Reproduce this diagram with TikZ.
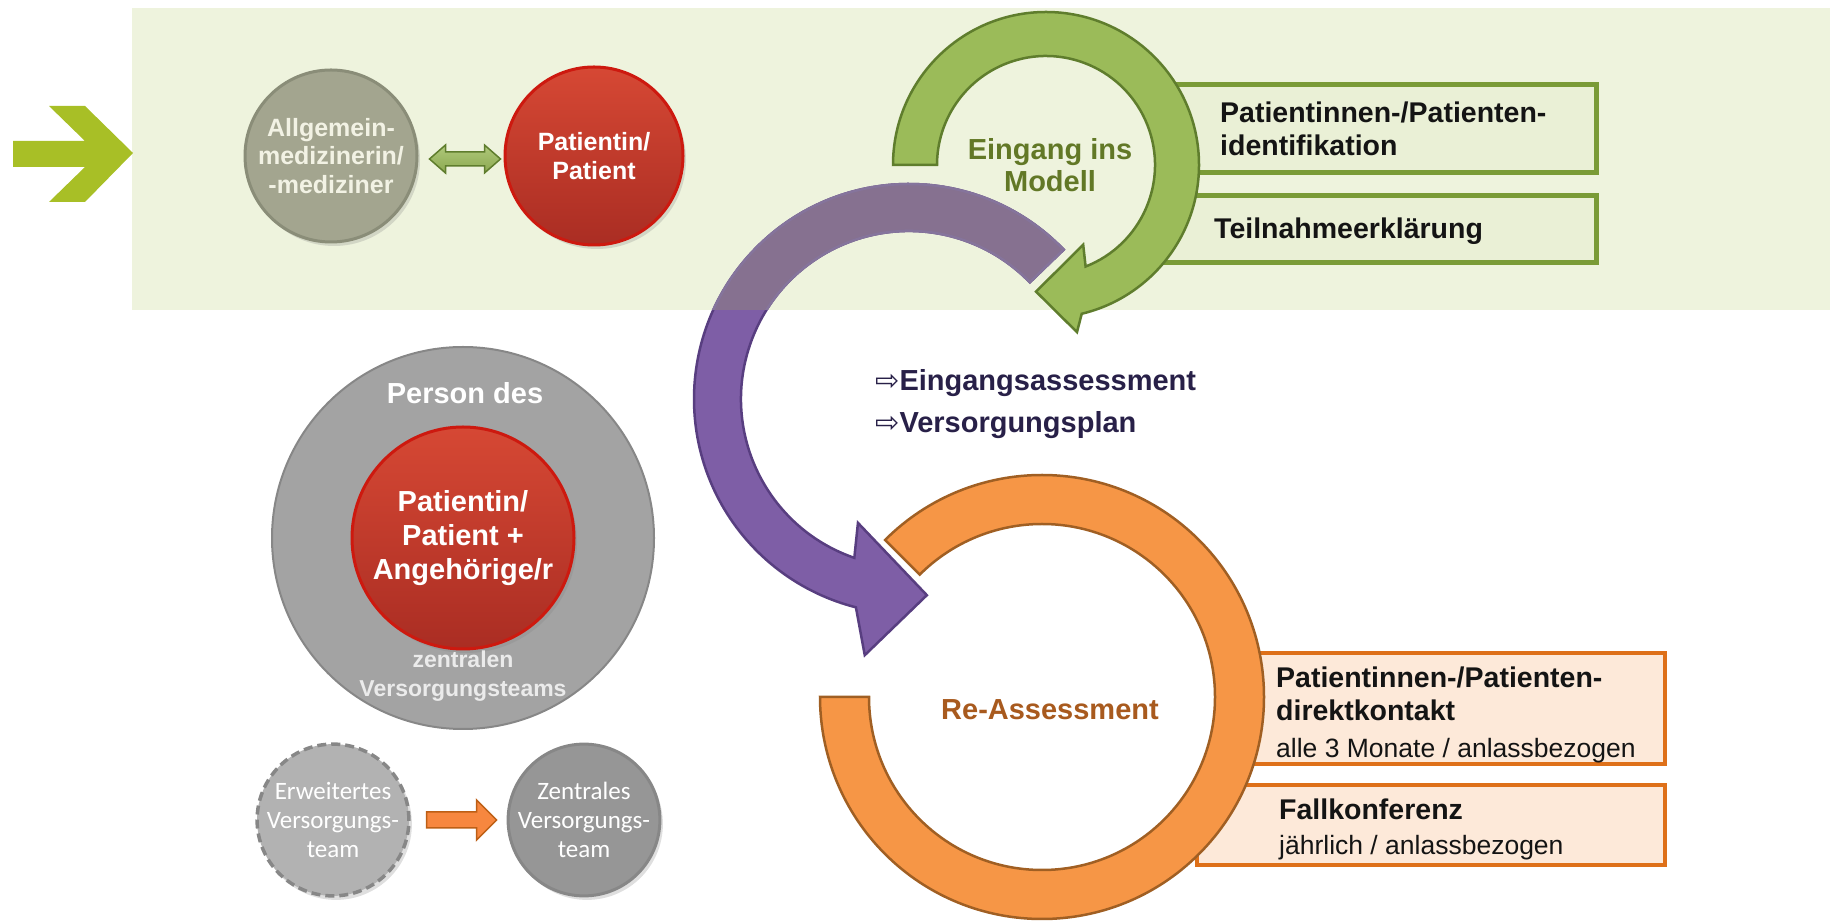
\documentclass[tikz,border=0pt]{standalone}
\usepackage{fontspec}
\setmainfont{Liberation Sans}
\newfontfamily\pfeilfont{DejaVu Sans}
\newfontfamily\calfont{Carlito}
\usepackage{tikz}
\usetikzlibrary{calc,shadows}

\definecolor{bandgruen}{RGB}{238,243,221}
\definecolor{pfeilgruen}{RGB}{168,191,38}
\definecolor{ringgruen}{RGB}{155,187,89}
\definecolor{randgruen}{RGB}{95,125,45}
\definecolor{boxgruen}{RGB}{234,240,214}
\definecolor{boxrandgruen}{RGB}{122,155,55}
\definecolor{textgruen}{RGB}{98,120,38}
\definecolor{lila}{RGB}{126,94,166}
\definecolor{lilarand}{RGB}{88,62,128}
\definecolor{lilamatt}{RGB}{134,113,144}
\definecolor{ringorange}{RGB}{246,150,70}
\definecolor{orangerand}{RGB}{160,95,35}
\definecolor{boxorange}{RGB}{253,233,217}
\definecolor{boxrandorange}{RGB}{222,112,25}
\definecolor{textbraun}{RGB}{168,90,30}
\definecolor{graugruen}{RGB}{163,165,143}
\definecolor{graugruenrand}{RGB}{138,141,120}
\definecolor{rotoben}{RGB}{214,72,52}
\definecolor{rotunten}{RGB}{170,45,35}
\definecolor{rotrand}{RGB}{205,25,15}
\definecolor{teamgrau}{RGB}{163,163,163}
\definecolor{teamrand}{RGB}{135,135,135}
\definecolor{hellgrau}{RGB}{178,178,178}
\definecolor{mittelgrau}{RGB}{150,150,150}
\definecolor{dunkeltext}{RGB}{40,32,72}
\definecolor{creme}{RGB}{242,242,228}

\tikzset{
	schatten/.style={drop shadow={opacity=0.25, shadow xshift=3pt, shadow yshift=-4pt}},
	kreis/.style={circle, align=center, inner sep=0pt, line width=3pt},
	arztkreis/.style={kreis, schatten, minimum size=172pt, fill=graugruen, draw=graugruenrand, text=creme, font=\fontsize{25}{28.5}\selectfont\bfseries},
	patkreis/.style={kreis, schatten, top color=rotoben, bottom color=rotunten, draw=rotrand, text=white, font=\fontsize{25}{29}\selectfont\bfseries},
	teamkreis/.style={kreis, minimum size=382pt, fill=teamgrau, draw=teamrand, line width=2pt},
	kleinkreis/.style={kreis, schatten, minimum size=144pt, text=white, font=\fontsize{25}{29}\selectfont\calfont},
	gbox/.style={draw=boxrandgruen, fill=boxgruen, line width=5pt},
	obox/.style={draw=boxrandorange, fill=boxorange, line width=4pt},
	boxtext/.style={align=left, inner sep=0pt, text=black!92, font=\fontsize{28.5}{33}\selectfont\bfseries},
	dblpfeil/.style={draw=randgruen, line width=1.5pt, top color=ringgruen!80!white, bottom color=ringgruen!90!black},
	orpfeil/.style={draw=boxrandorange!85!black, line width=1.5pt, fill=ringorange!90!red},
	gruenring/.style={fill=ringgruen, draw=randgruen, line width=2.5pt},
	orangering/.style={fill=ringorange, draw=orangerand, line width=2.5pt}
}

\newcommand{\lilapfeil}[1] % {Stil}
{
	\draw [#1] ($(P)+(44:215)$) arc [start angle=44, end angle=255.7, radius=215] -- ($(P)+(260.2:260)$) -- ($(P)+(275.2:197)$) -- ($(P)+(247.6:134)$) -- ($(P)+(251:168)$) arc [start angle=251, end angle=44, radius=168] -- cycle;
}

\begin{document}
\begin{tikzpicture}[x=1pt,y=1pt]
	\useasboundingbox (0,0) rectangle (1830,923);
	\fill [bandgruen] (132,613) rectangle (1830,915);
	\fill [pfeilgruen] (13,782) -- (85,782) -- (49,817) -- (85,817) -- (133,770) -- (85,721) -- (49,721) -- (85,756) -- (13,756) -- cycle;

	\coordinate (P) at (909,524);
	\coordinate (G) at (1046,758);
	\coordinate (O) at (1042,226);

	% lila Pfeil, im Band matter
	\lilapfeil{fill=lila, draw=lilarand, line width=2.5pt}
	\begin{scope}
		\clip (132,613) rectangle (1830,915);
		\lilapfeil{fill=lilamatt, draw=lilarand!70!bandgruen, line width=2.5pt}
	\end{scope}

	% Eingang ins Modell
	\node [gbox, minimum width=430pt, minimum height=88pt] (ident) at (1381,794.5) {};
	\node [gbox, minimum width=436pt, minimum height=67pt] (teiln) at (1378,694) {};
	\draw [gruenring] ($(G)+(180:153)$) arc [start angle=180, end angle=-76.5, radius=153] -- ($(G)+(-79.5:170)$) -- ($(G)+(-94.5:127)$) -- ($(G)+(-65:88)$) -- ($(G)+(-68.7:109)$) arc [start angle=-68.7, end angle=180, radius=109] -- cycle;
	\node [boxtext, anchor=north west] (identtxt) at (1220,821) {Patientinnen-/Patienten-\\identifikation};
	\node [boxtext, anchor=north west] (teilntxt) at (1214,705) {Teilnahmeerklärung};
	\node [align=center, text=textgruen, font=\fontsize{29}{32}\selectfont\bfseries] (eingang) at (1050,758) {Eingang ins\\Modell};

	% Re-Assessment
	\node [obox, minimum width=435pt, minimum height=111pt] (kontakt) at (1447.5,214.5) {};
	\node [obox, minimum width=468pt, minimum height=80pt] (konferenz) at (1431,98) {};
	\draw [orangering] ($(O)+(135:222)$) arc [start angle=135, end angle=-180, radius=222] -- ($(O)+(180:173)$) arc [start angle=-180, end angle=135, radius=173] -- cycle;
	\node [boxtext, anchor=north west] (kontakttxt) at (1276,256) {Patientinnen-/Patienten-\\direktkontakt\\[4pt]{\mdseries\fontsize{26.5}{31}\selectfont alle 3 Monate / anlassbezogen}};
	\node [boxtext, anchor=north west] (konferenztxt) at (1279,124) {Fallkonferenz\\[2pt]{\mdseries\fontsize{26.5}{31}\selectfont jährlich / anlassbezogen}};
	\node [text=textbraun, font=\fontsize{29}{32}\selectfont\bfseries] (reass) at (1050,213) {Re-Assessment};

	\node [anchor=north west, align=left, inner sep=0pt, text=dunkeltext, font=\fontsize{29}{42}\selectfont\bfseries] (plan) at (875,554) {{\pfeilfont\mdseries\fontsize{29}{42}\selectfont ⇨}Eingangsassessment\\{\pfeilfont\mdseries\fontsize{29}{42}\selectfont ⇨}Versorgungsplan};

	% Arzt und Patient
	\node [arztkreis] (arzt) at (331,767) {Allgemein-\\medizinerin/\\-mediziner};
	\node [patkreis, minimum size=178pt] (pat) at (594,767) {Patientin/\\Patient};
	\draw [dblpfeil] let \p1=($(arzt.east)+(11,-3)$), \p2=($(pat.west)+(-3,-3)$) in (\x1,\y1) -- (\x1+16,\y1+14) -- (\x1+16,\y1+7) -- (\x2-16,\y1+7) -- (\x2-16,\y1+14) -- (\x2,\y1) -- (\x2-16,\y1-14) -- (\x2-16,\y1-7) -- (\x1+16,\y1-7) -- (\x1+16,\y1-14) -- cycle;

	% Versorgungsteam
	\node [teamkreis] (team) at (463,385) {};
	\node [text=white, font=\fontsize{29}{32}\selectfont\bfseries] (person) at (465,530) {Person des};
	\node [patkreis, minimum size=222pt, font=\fontsize{29}{34}\selectfont\bfseries, drop shadow={opacity=0}] (angeh) at (463,385) {Patientin/\\Patient +\\Angehörige/r};
	\node [align=center, text=white!92!black, font=\fontsize{23}{29}\selectfont\bfseries] (zentral) at (463,247) {zentralen\\Versorgungsteams};

	\node [kleinkreis, fill=hellgrau, draw=teamrand, line width=3.5pt, dash pattern=on 9pt off 5pt] (erw) at (333,103) {Erweitertes\\Versorgungs-\\team};
	\node [kleinkreis, fill=mittelgrau, draw=teamrand] (zent) at (584,103) {Zentrales\\Versorgungs-\\team};
	\draw [orpfeil] let \p1=($(erw.east)+(16,0)$), \p2=($(zent.west)+(-10,0)$) in (\x1,\y1+8) -- (\x2-20,\y1+8) -- (\x2-20,\y1+20) -- (\x2,\y1) -- (\x2-20,\y1-20) -- (\x2-20,\y1-8) -- (\x1,\y1-8) -- cycle;
\end{tikzpicture}
\end{document}
